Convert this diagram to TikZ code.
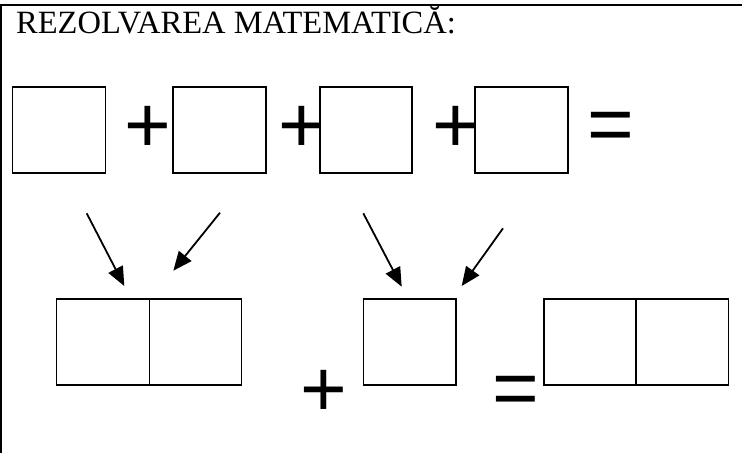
\documentclass[tikz,border=0pt]{standalone}
\usepackage{fontspec}
\setmainfont{Liberation Serif}
\newfontfamily\arialf{Liberation Sans}
\usetikzlibrary{arrows.meta}
\begin{document}
\begin{tikzpicture}[x=1pt,y=-1pt,
  cell/.style={draw, line width=1.2pt, minimum width=93pt, minimum height=86pt, inner sep=0pt, outer sep=0pt},
  op/.style={font=\arialf\fontsize{80}{80}\selectfont, inner sep=0pt, anchor=base},
  arr/.style={line width=1.8pt, -{Triangle[length=19pt,width=16pt]}}]
\useasboundingbox (0,0) rectangle (742,453);
% frame (top and left edges of a table cell)
\draw[line width=2pt] (0,5) -- (742,5);
\draw[line width=1.5pt] (0.75,5) -- (0.75,453);
% title
\node[anchor=base west, inner sep=0pt, font=\fontsize{32.5}{32.5}\selectfont] (title) at (16,33.5) {REZOLVAREA MATEMATICĂ:};
% top row
\node[cell] (b1) at (59.3,130) {};
\node[cell] (b2) at (219.5,130) {};
\node[cell, minimum width=92pt] (b3) at (366,130) {};
\node[cell] (b4) at (521.5,130) {};
\node[op] (p1) at (147.5,152) {+};
\node[op] (p2) at (301.5,152) {+};
\node[op] (p3) at (456,152) {+};
\node[op] (e1) at (610.5,151) {=};
% bottom row
\node[cell, minimum width=92.6pt] (c1) at (103,342) {};
\node[cell, minimum width=92.4pt] (c2) at (195.5,342) {};
\node[cell, minimum width=92.7pt] (c3) at (409.7,342) {};
\node[cell, minimum width=92pt] (c4) at (590,342) {};
\node[cell, minimum width=92.3pt] (c5) at (682.2,342) {};
\node[op] (p4) at (324,416) {+};
\node[op] (e2) at (515.5,415) {=};
% arrows
\coordinate (a1s) at (86.7,213.3);  \coordinate (a1e) at (124.3,286);
\coordinate (a2s) at (220,212.7);   \coordinate (a2e) at (173.3,270.7);
\coordinate (a3s) at (363.3,213.3); \coordinate (a3e) at (401.7,286.7);
\coordinate (a4s) at (503,228.3);   \coordinate (a4e) at (461.7,286);
\draw[arr] (a1s) -- (a1e);
\draw[arr] (a2s) -- (a2e);
\draw[arr] (a3s) -- (a3e);
\draw[arr] (a4s) -- (a4e);
\end{tikzpicture}
\end{document}
